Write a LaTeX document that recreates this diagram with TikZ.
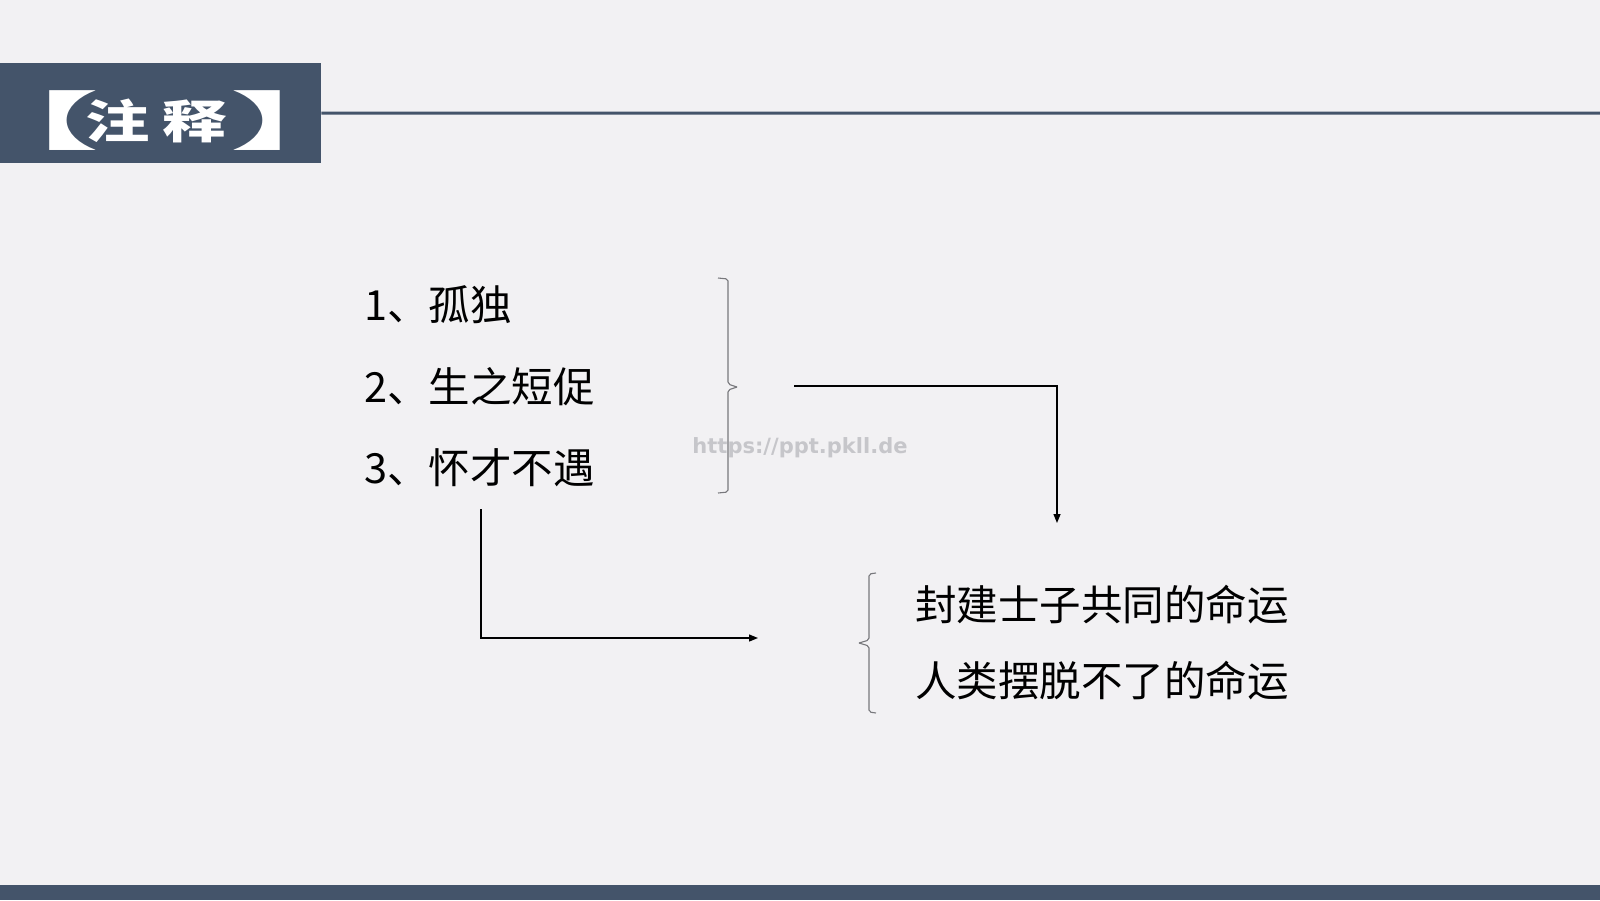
\documentclass[tikz,border=0pt]{standalone}
\usepackage{fontspec}
\setmainfont{Noto Sans CJK SC}
\newfontfamily\titlebr[RawFeature=+palt, FakeStretch=2.3]{Noto Sans CJK SC}
\newfontfamily\titlecjk[FakeStretch=1.4]{Noto Sans CJK SC}
\newfontfamily\wmfont{DejaVu Sans}
\usetikzlibrary{arrows.meta}
\definecolor{slate}{RGB}{68,84,106}
\definecolor{bgc}{RGB}{242,241,243}
\definecolor{bracegray}{RGB}{120,120,124}
\definecolor{wmc}{RGB}{198,198,202}
\begin{document}
\begin{tikzpicture}[x=1pt,y=-1pt,
  listitem/.style={anchor=west, inner sep=0pt, font=\fontsize{41.5}{41.5}\selectfont, text=black},
  titlechar/.style={text=white, inner sep=0pt, font=\titlecjk\fontsize{46}{46}\selectfont\bfseries},
  titlebracket/.style={text=white, inner sep=0pt, font=\titlebr\fontsize{63}{63}\selectfont\bfseries},
  bracestyle/.style={draw=bracegray, line width=1.1pt, rounded corners=2pt},
  conn/.style={draw=black, line width=1.3pt, -{Triangle[length=9pt,width=7pt]}}
]
\fill[bgc] (0,0) rectangle (1600,900);
\useasboundingbox (0,0) rectangle (1600,900);
% title
\node[fill=slate, minimum width=321pt, minimum height=100pt, anchor=north west, inner sep=0pt] (title) at (0,63) {};
\node[titlebracket] (tbl) at (60,121) {【};
\node[titlechar] (tc1) at (118,121) {注};
\node[titlechar] (tc2) at (195,121) {释};
\node[titlebracket] (tbr) at (270,121) {】};
\coordinate (lineend) at (1600,113);
\draw[slate, line width=3pt] (title.east) -- (lineend);
% bottom bar
\fill[slate] (0,885) rectangle (1600,900);
% list
\node[listitem] (item1) at (364,305) {1、孤独};
\node[listitem] (item2) at (364,387) {2、生之短促};
\node[listitem] (item3) at (364,468) {3、怀才不遇};
% right brace
\draw[bracestyle] (718,278) -- (728,279) -- (728,384) -- (737,387);
\draw[bracestyle] (737,387) -- (728,390) -- (728,492) -- (718,493);
% results
\node[listitem] (res1) at (915,605) {封建士子共同的命运};
\node[listitem] (res2) at (915,681) {人类摆脱不了的命运};
% left brace
\draw[bracestyle] (876,573) -- (869,574) -- (869,640) -- (859,643);
\draw[bracestyle] (859,643) -- (869,646) -- (869,712) -- (876,713);
% connectors
\coordinate (a1s) at (794,386);
\coordinate (a1e) at (1057,523);
\draw[conn] (a1s) -| (a1e);
\coordinate (a2s) at (481,509);
\coordinate (a2e) at (758,638);
\draw[conn] (a2s) |- (a2e);
% watermark
\node[text=wmc, inner sep=0pt, font=\wmfont\bfseries\fontsize{21}{21}\selectfont] (wm) at (800,448) {https://ppt.pkll.de};
\end{tikzpicture}
\end{document}
